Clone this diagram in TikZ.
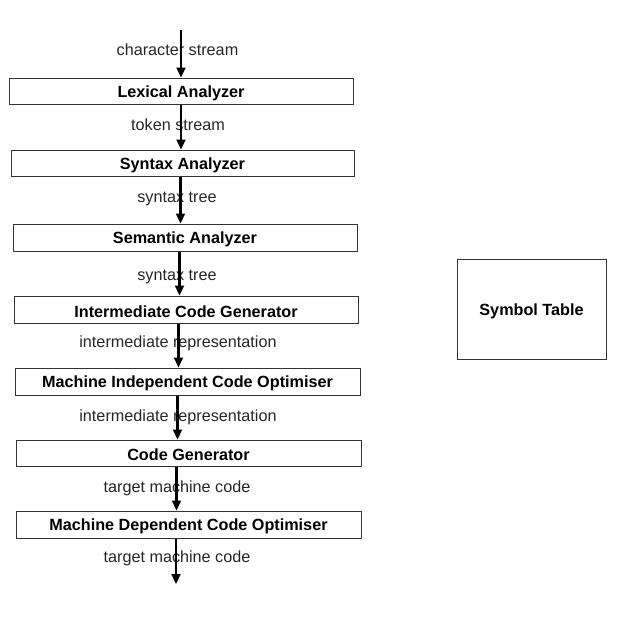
\documentclass[tikz,border=0pt]{standalone}
\usepackage{fontspec}
\setmainfont{Liberation Sans}
\usetikzlibrary{arrows.meta}
\newcommand{\lowr}[1]{\raisebox{-2pt}[\height][\depth]{#1}}
\begin{document}
\begin{tikzpicture}[x=1pt,y=-1pt,
  stage/.style={draw=black!80,line width=1pt,inner sep=0pt,minimum height=26pt,font=\fontsize{16.2}{19}\selectfont\bfseries},
  lbl/.style={inner sep=0pt,text=black!85,yshift=-1pt,font=\fontsize{16.2}{19}\selectfont},
  arr/.style={line width=2.2pt,-{Triangle[length=10pt,width=9pt]}}]
\useasboundingbox (0,0) rectangle (621,625);
% stages
\node[stage,minimum width=344pt] (lex) at (181,91) {\lowr{Lexical Analyzer}};
\node[stage,minimum width=343pt] (syn) at (182.5,163) {\lowr{Syntax Analyzer}};
\node[stage,minimum width=344pt,minimum height=27pt] (sem) at (185,237.5) {\lowr{Semantic Analyzer}};
\node[stage,minimum width=344pt,minimum height=27pt] (icg) at (186,309.5) {\lowr{Intermediate Code Generator}};
\node[stage,minimum width=345pt,minimum height=27pt] (mio) at (187.5,381.5) {\lowr{Machine Independent Code Optimiser}};
\node[stage,minimum width=345pt] (cg) at (188.5,453) {\lowr{Code Generator}};
\node[stage,minimum width=345pt,minimum height=27pt] (mdo) at (188.5,524.5) {\lowr{Machine Dependent Code Optimiser}};
\node[stage,minimum width=149pt,minimum height=100pt] (sym) at (531.5,309) {\lowr{Symbol Table}};
% labels
\node[lbl] (l0) at (177.5,49) {character stream};
\node[lbl] (l1) at (178,124) {token stream};
\node[lbl] (l2) at (177,198) {syntax tree};
\node[lbl] (l3) at (177,276) {syntax tree};
\node[lbl] (l4) at (178,342) {intermediate representation};
\node[lbl] (l5) at (178,416) {intermediate representation};
\node[lbl] (l6) at (177,487) {target machine code};
\node[lbl] (l7) at (177,557) {target machine code};
% arrow columns
\coordinate (top) at (181,30);
\coordinate (bot) at (176,584);
\coordinate (c1) at (181,0);
\coordinate (c2) at (180.5,0);
\coordinate (c3) at (179.5,0);
\coordinate (c4) at (178.5,0);
\coordinate (c5) at (177.5,0);
\coordinate (c6) at (176.5,0);
\coordinate (c7) at (176,0);
% arrows
\draw[arr] (top) -- (top |- lex.north);
\draw[arr] (lex.south -| c1) -- (syn.north -| c1);
\draw[arr] (syn.south -| c2) -- (sem.north -| c2);
\draw[arr] (sem.south -| c3) -- (icg.north -| c3);
\draw[arr] (icg.south -| c4) -- (mio.north -| c4);
\draw[arr] (mio.south -| c5) -- (cg.north -| c5);
\draw[arr] (cg.south -| c6) -- (mdo.north -| c6);
\draw[arr] (mdo.south -| c7) -- (bot);
\end{tikzpicture}
\end{document}
